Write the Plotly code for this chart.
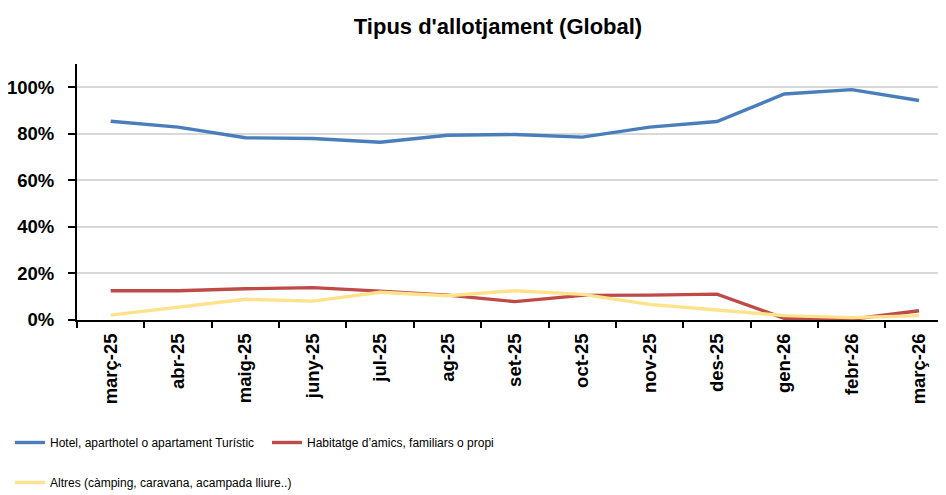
import plotly.graph_objects as go

months = ["març-25", "abr-25", "maig-25", "juny-25", "jul-25", "ag-25", "set-25",
          "oct-25", "nov-25", "des-25", "gen-26", "febr-26", "març-26"]
hotel = [0.854, 0.829, 0.783, 0.780, 0.764, 0.794, 0.797, 0.786, 0.829, 0.853, 0.971, 0.990, 0.943]
habitatge = [0.126, 0.126, 0.134, 0.139, 0.124, 0.107, 0.079, 0.106, 0.107, 0.111, 0.007, 0.003, 0.040]
altres = [0.021, 0.054, 0.089, 0.081, 0.119, 0.104, 0.126, 0.110, 0.067, 0.043, 0.019, 0.010, 0.019]

names = ["Hotel, aparthotel o apartament Turístic",
         "Habitatge d’amics, familiars o propi",
         "Altres (càmping, caravana, acampada lliure..)"]
colors = ["#4A7EBB", "#BE4B48", "#FFE38C"]

# the page body adds an 8px offset, so the figure is 8px smaller and shifted
W, H = 938, 487

fig = go.Figure()
for vals, name, col, lg in zip([hotel, habitatge, altres], names, colors, ["legend", "legend", "legend2"]):
    fig.add_trace(go.Scatter(x=months, y=vals, name=name, mode="lines",
                             line=dict(color=col, width=3.4), legend=lg))

legend_font = dict(family="Liberation Sans, Arial", size=12, color="#000000")
tick_font = dict(family="Liberation Sans, Arial", size=18.5, color="#000000", weight="bold")
fig.update_layout(
    width=W, height=H,
    margin=dict(l=69, r=0, t=56, b=175),
    plot_bgcolor="white", paper_bgcolor="white",
    title=dict(text="Tipus d'allotjament (Global)", x=490 / W, xanchor="center",
               y=1 - 18 / H, yanchor="middle", yref="container",
               font=dict(family="Liberation Sans, Arial", size=22, color="#000000", weight="bold")),
    xaxis=dict(type="category", range=[-0.5, 12.4], tickangle=-90, automargin=False,
               showline=True, linecolor="#000000", linewidth=2,
               ticks="outside", tickson="boundaries", ticklen=6, tickcolor="#000000", tickwidth=2,
               ticklabelstandoff=4,
               showgrid=False, tickfont=tick_font),
    yaxis=dict(range=[0, 1.1], dtick=0.2, tick0=0, tickformat=".0%", automargin=False,
               showline=True, linecolor="#000000", linewidth=2,
               ticks="outside", ticklen=7, tickcolor="#000000", tickwidth=2,
               ticklabelstandoff=10,
               showgrid=True, gridcolor="#D9D9D9", gridwidth=1.5, zeroline=False,
               tickfont=tick_font),
    legend=dict(orientation="h", xref="container", yref="container",
                x=2 / W, y=1 - 420 / H, xanchor="left", yanchor="top",
                entrywidth=212, font=legend_font, bgcolor="rgba(0,0,0,0)", itemwidth=30),
    legend2=dict(orientation="h", xref="container", yref="container",
                 x=2 / W, y=1 - 460 / H, xanchor="left", yanchor="top",
                 font=legend_font, bgcolor="rgba(0,0,0,0)", itemwidth=30),
)

fig.write_html("out.html")
